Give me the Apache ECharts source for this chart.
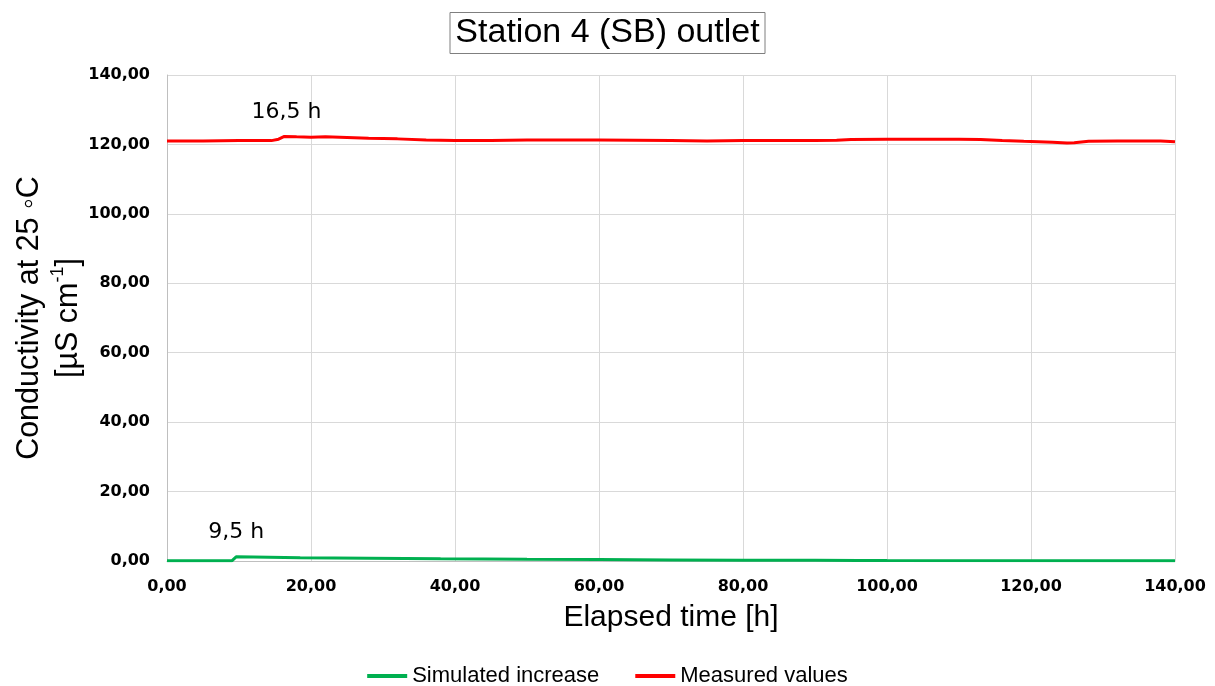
<!DOCTYPE html>
<html>
<head>
<meta charset="utf-8">
<title>Station 4 (SB) outlet</title>
<script src="https://cdn.jsdelivr.net/npm/echarts@6/dist/echarts.min.js"></script>
<style>
  html, body { margin: 0; padding: 0; background: #ffffff; }
  #chart { width: 1215px; height: 686px; }
</style>
</head>
<body>
<div id="chart"></div>
<script>
// Elapsed time [h] and conductivity [µS cm-1] for the measured series
const measuredHours = [0, 5, 10, 14.5, 15.5, 16.3, 18, 20, 22, 25, 28, 32, 36, 40, 45, 50, 55, 60, 65, 70, 75, 80, 85, 90, 93, 95, 100, 105, 110, 113, 116, 119, 121, 123, 125, 126, 128, 132, 135, 138, 140];
const measuredValues = [121.0, 121.0, 121.1, 121.1, 121.5, 122.3, 122.2, 122.1, 122.2, 122.0, 121.8, 121.6, 121.3, 121.1, 121.1, 121.3, 121.3, 121.3, 121.2, 121.1, 121.0, 121.1, 121.1, 121.1, 121.2, 121.4, 121.5, 121.5, 121.5, 121.4, 121.1, 120.9, 120.8, 120.6, 120.4, 120.5, 120.9, 121.0, 121.0, 121.0, 120.8];

// Simulated increase series
const simulatedHours = [0, 9, 9.6, 12, 18.5, 28, 38, 50, 60, 70, 80, 90, 96, 100, 140];
const simulatedValues = [0.05, 0.05, 1.2, 1.15, 0.95, 0.8, 0.65, 0.5, 0.4, 0.32, 0.25, 0.2, 0.15, 0.12, 0.08];

// Annotated onset times
const measuredOnset = { text: '16,5 h', hour: 16.6, value: 129.2 };
const simulatedOnset = { text: '9,5 h', hour: 9.6, value: 8.3 };

const xTicks = { min: 0, max: 140, interval: 20 };
const yTicks = { min: 0, max: 140, interval: 20 };

const pairs = (xs, ys) => xs.map((x, i) => [x, ys[i]]);
const fmt = v => v.toFixed(2).replace('.', ',');

const chart = echarts.init(document.getElementById('chart'), null, { renderer: 'canvas' });

// Text note placed at a data coordinate, with an invisible anchor symbol
const noteLabel = note => ({
  data: [{
    coord: [note.hour, note.value],
    symbol: 'circle',
    symbolSize: 2,
    itemStyle: { color: 'rgba(0,0,0,0)' },
    label: {
      show: true,
      formatter: note.text,
      position: 'inside',
      fontFamily: 'DejaVu Sans',
      fontSize: 22,
      color: '#000000'
    }
  }]
});

chart.setOption({
  animation: false,
  backgroundColor: '#ffffff',
  title: {
    text: 'Station 4 (SB) outlet',
    left: 'center',
    top: 12,
    borderWidth: 1,
    borderColor: '#7f7f7f',
    padding: [4, 6, 4, 6],
    textStyle: {
      fontFamily: 'Liberation Sans',
      fontWeight: 'normal',
      fontSize: 34,
      color: '#000000'
    }
  },
  grid: { left: 167, right: 40, top: 75, bottom: 125, containLabel: false, outerBoundsMode: 'none' },
  legend: {
    bottom: -6,
    left: 'center',
    icon: 'rect',
    itemWidth: 40,
    itemHeight: 4,
    itemGap: 36,
    textStyle: { fontFamily: 'Liberation Sans', fontSize: 22, color: '#000000' },
    data: ['Simulated increase', 'Measured values']
  },
  xAxis: {
    type: 'value',
    min: xTicks.min,
    max: xTicks.max,
    interval: xTicks.interval,
    name: 'Elapsed time [h]',
    nameLocation: 'middle',
    nameGap: 42,
    nameMoveOverlap: false,
    nameTextStyle: { fontFamily: 'Liberation Sans', fontSize: 30, color: '#000000', verticalAlign: 'top' },
    axisLine: { show: true, lineStyle: { color: '#bfbfbf', width: 1 } },
    axisTick: { show: false },
    axisLabel: {
      formatter: fmt,
      margin: 18,
      fontFamily: 'DejaVu Sans',
      fontWeight: 'bold',
      fontSize: 16,
      color: '#000000'
    },
    splitLine: { show: true, lineStyle: { color: '#d9d9d9', width: 1 } }
  },
  yAxis: {
    type: 'value',
    min: yTicks.min,
    max: yTicks.max,
    interval: yTicks.interval,
    name: 'Conductivity at 25 ◦C\n[µS cm{sup|-1}]',
    nameLocation: 'middle',
    nameGap: 79,
    nameRotate: 90,
    nameMoveOverlap: false,
    nameTextStyle: {
      fontFamily: 'Liberation Sans',
      fontSize: 30.5,
      lineHeight: 39,
      color: '#000000',
      rich: {
        sup: { fontFamily: 'Liberation Sans', fontSize: 18, verticalAlign: 'top', color: '#000000' }
      }
    },
    axisLine: { show: true, lineStyle: { color: '#bfbfbf', width: 1 } },
    axisTick: { show: false },
    axisLabel: {
      formatter: fmt,
      margin: 17,
      fontFamily: 'DejaVu Sans',
      fontWeight: 'bold',
      fontSize: 16,
      color: '#000000'
    },
    splitLine: { show: true, lineStyle: { color: '#d9d9d9', width: 1 } }
  },
  series: [
    {
      name: 'Simulated increase',
      type: 'line',
      data: pairs(simulatedHours, simulatedValues),
      showSymbol: false,
      symbol: 'none',
      color: '#00b050',
      lineStyle: { color: '#00b050', width: 3 },
      z: 3,
      markPoint: noteLabel(simulatedOnset)
    },
    {
      name: 'Measured values',
      type: 'line',
      data: pairs(measuredHours, measuredValues),
      showSymbol: false,
      symbol: 'none',
      color: '#ff0000',
      lineStyle: { color: '#ff0000', width: 3 },
      z: 4,
      markPoint: noteLabel(measuredOnset)
    }
  ]
});
</script>
</body>
</html>
